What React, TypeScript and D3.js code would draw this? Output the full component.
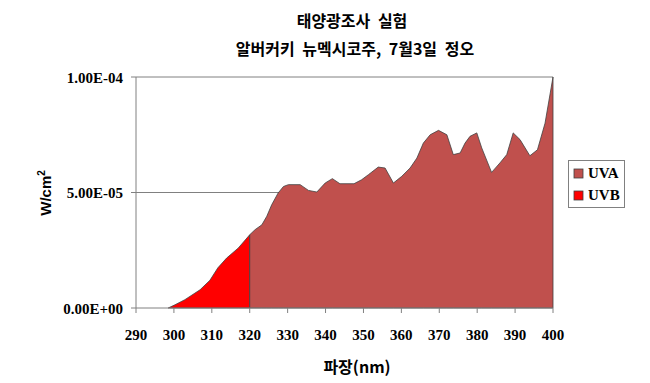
import React from "react";
import * as d3 from "d3";

const title1 = "태양광조사 실험";
const title2 = "알버커키 뉴멕시코주, 7월3일 정오";
const xTitle = "파장(nm)";
const seriesNames = ["UVA", "UVB"];

// wavelength (nm), irradiance (W/cm^2)
const uvbX = [298.5, 300.3, 302.9, 306.9, 309.5, 311.6, 313.9, 317.0, 320.0];
const uvbY = [0, 1.4e-6, 3.6e-6, 7.9e-6, 1.2e-5, 1.74e-5, 2.16e-5, 2.6e-5, 3.17e-5];

const uvaX = [320.0, 321.4, 323.2, 324.5, 325.8, 327.5, 328.9, 330.2, 333.3, 335.5, 337.7, 339.9, 341.8, 343.8, 347.5, 349.5, 351.3, 353.9, 355.7, 357.9, 360.1, 362.3, 364.1, 365.8, 367.6, 369.8, 372.0, 373.7, 375.5, 376.8, 378.1, 379.9, 381.2, 383.8, 386.0, 387.8, 389.5, 391.3, 393.9, 395.9, 397.9, 400.0];
const uvaY = [3.17e-5, 3.39e-5, 3.6e-5, 3.97e-5, 4.47e-5, 4.98e-5, 5.26e-5, 5.34e-5, 5.34e-5, 5.09e-5, 5.02e-5, 5.41e-5, 5.6e-5, 5.38e-5, 5.38e-5, 5.55e-5, 5.77e-5, 6.1e-5, 6.06e-5, 5.41e-5, 5.7e-5, 6.06e-5, 6.49e-5, 7.14e-5, 7.5e-5, 7.69e-5, 7.5e-5, 6.64e-5, 6.71e-5, 7.14e-5, 7.43e-5, 7.58e-5, 6.93e-5, 5.87e-5, 6.28e-5, 6.64e-5, 7.58e-5, 7.29e-5, 6.59e-5, 6.85e-5, 8.0e-5, 1.0e-4];

const xTicks = [290, 300, 310, 320, 330, 340, 350, 360, 370, 380, 390, 400];
const yTicks = [0, 5e-5, 1e-4];
const yTickLabels = ["0.00E+00", "5.00E-05", "1.00E-04"];

const UVA_COLOR = "#C0504D";
const UVB_COLOR = "#FF0000";

export default function App() {
  const W = 650, H = 383;
  const left = 136, right = 553, top = 77, bottom = 308;
  const x = d3.scaleLinear().domain([290, 400]).range([left, right]);
  const y = d3.scaleLinear().domain([0, 1e-4]).range([bottom, top]);

  const area = d3
    .area<[number, number]>()
    .x((d) => x(d[0]))
    .y0(y(0))
    .y1((d) => y(d[1]));

  const uvb: [number, number][] = uvbX.map((v, i) => [v, uvbY[i]]);
  const uva: [number, number][] = uvaX.map((v, i) => [v, uvaY[i]]);

  const serif = "'Liberation Serif', 'Times New Roman', serif";
  const kr = "'Noto Sans CJK KR', sans-serif";

  return (
    <svg width={W} height={H} style={{ position: "absolute", left: 0, top: 0, background: "#fff" }}>
      <rect x={0} y={0} width={W} height={H} fill="#fff" />
      <text x={352} y={27} textAnchor="middle" fontFamily={kr} fontWeight="bold" fontSize={16} wordSpacing={4}>{title1}</text>
      <text x={355} y={55} textAnchor="middle" fontFamily={kr} fontWeight="bold" fontSize={16} wordSpacing={4}>{title2}</text>

      {/* gridlines */}
      {yTicks.filter((t) => t > 0).map((t) => (
        <line key={t} x1={left} x2={right} y1={y(t)} y2={y(t)} stroke="#808080" strokeWidth={1} />
      ))}

      {/* areas */}
      <path d={area(uvb) || ""} fill={UVB_COLOR} stroke="#404040" strokeWidth={0.8} />
      <path d={area(uva) || ""} fill={UVA_COLOR} stroke="#404040" strokeWidth={0.8} />

      {/* axes */}
      <line x1={left} x2={left} y1={top} y2={bottom} stroke="#808080" />
      <line x1={left} x2={right} y1={bottom} y2={bottom} stroke="#808080" />
      {yTicks.map((t, i) => (
        <g key={t}>
          <line x1={left - 5} x2={left} y1={y(t)} y2={y(t)} stroke="#808080" />
          <text x={123} y={y(t) + 5.5} textAnchor="end" fontFamily={serif} fontWeight="bold" fontSize={15}>{yTickLabels[i]}</text>
        </g>
      ))}
      {xTicks.map((t) => (
        <g key={t}>
          <line x1={x(t)} x2={x(t)} y1={bottom} y2={bottom + 5} stroke="#808080" />
          <text x={x(t)} y={340} textAnchor="middle" fontFamily={serif} fontWeight="bold" fontSize={15}>{t}</text>
        </g>
      ))}

      <text x={357} y={373} textAnchor="middle" fontFamily={kr} fontWeight="bold" fontSize={16}>{xTitle}</text>

      <text transform="translate(51,193) rotate(-90)" textAnchor="middle" fontFamily="'Liberation Sans', Arial, sans-serif" fontWeight="bold" fontSize={15}>
        W/cm<tspan dy={-6} fontSize={10}>2</tspan>
      </text>

      {/* legend */}
      <rect x={568.5} y={160.5} width={56} height={47} fill="#fff" stroke="#808080" />
      {seriesNames.map((n, i) => (
        <g key={n}>
          <rect x={574} y={169 + i * 22} width={9} height={9} fill={i === 0 ? UVA_COLOR : UVB_COLOR} stroke="#404040" strokeWidth={0.8} />
          <text x={588} y={178 + i * 22} fontFamily={serif} fontWeight="bold" fontSize={15}>{n}</text>
        </g>
      ))}
    </svg>
  );
}
